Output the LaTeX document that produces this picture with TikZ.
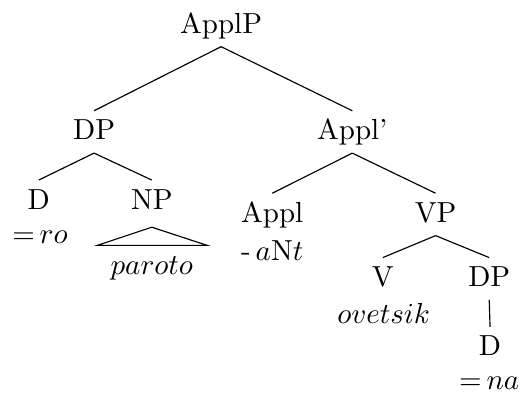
\documentclass[tikz,border=0pt]{standalone}

\begin{document}
\begin{tikzpicture}[cat/.style={anchor=base,text height=1.5ex,text depth=.25ex},
                    gloss/.style={anchor=base}]
                    \useasboundingbox (0,0) rectangle (6.315,4.824);
                    % categories
                    \node[cat] (applp) at (2.68,4.42) {ApplP};
                    \node[cat] (dp) at (1.14,3.13) {DP};
                    \node[cat] (applbar) at (4.27,3.13) {Appl'};
                    \node[cat] (d) at (0.47,2.29) {D};
                    \node[cat] (np) at (1.84,2.29) {NP};
                    \node[cat] (appl) at (3.30,2.13) {Appl};
                    \node[cat] (vp) at (5.28,2.13) {VP};
                    \node[cat] (v) at (4.64,1.35) {V};
                    \node[cat] (dpb) at (5.93,1.35) {DP};
                    \node[cat] (db) at (5.94,0.51) {D};
                    % glosses
                    \node[gloss] (ro) at (0.485,1.87) {${=}\,ro$};
                    \node[gloss] (paroto) at (1.84,1.50) {$paroto$};
                    \node[gloss] (ant) at (3.30,1.67) {-\,$a\mathrm{N}t$};
                    \node[gloss] (ovetsik) at (4.65,0.90) {$ovetsik$};
                    \node[gloss] (na) at (5.93,0.10) {${=}\,na$};
                    % branches
                    \draw (applp.south) -- (dp.north);
                    \draw (applp.south) -- (applbar.north);
                    \draw (dp.south) -- (d.north);
                    \draw (dp.south) -- (np.north);
                    \draw (applbar.south) -- (appl.north);
                    \draw (applbar.south) -- (vp.north);
                    \draw (vp.south) -- (v.north);
                    \draw (vp.south) -- (dpb.north);
                    \draw (dpb.south) -- (db.north);
                    % triangle over paroto
                    \coordinate (top) at (1.84,2.07);
                    \coordinate (left) at (1.18,1.85);
                    \coordinate (right) at (2.51,1.85);
                    \draw (top) -- (left) -- (right) -- cycle;
\end{tikzpicture}
\end{document}
